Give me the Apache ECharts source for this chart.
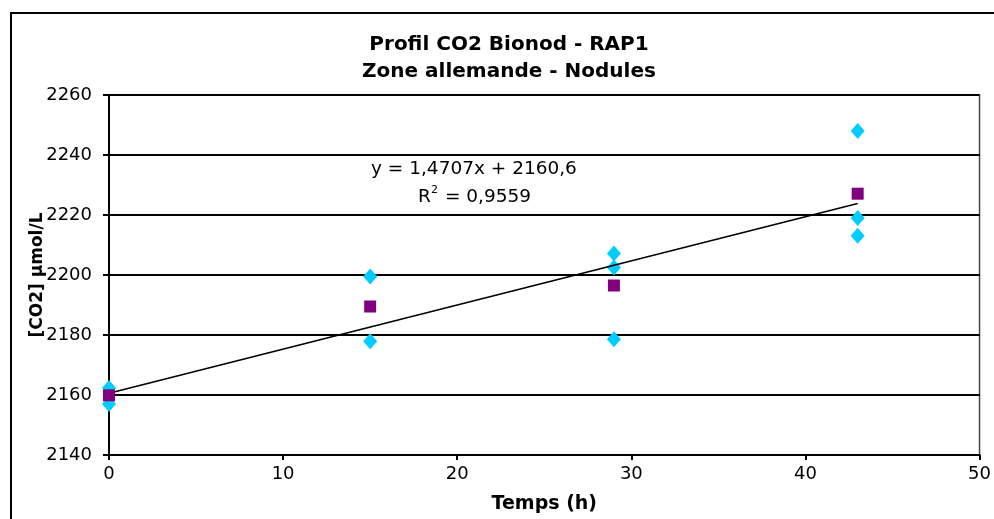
<!DOCTYPE html>
<html>
<head>
<meta charset="UTF-8">
<title>Profil CO2 Bionod - RAP1</title>
<script src="https://cdn.jsdelivr.net/npm/echarts@6/dist/echarts.min.js"></script>
<style>
  body { margin: 0; padding: 0; background: #fff; }
  #chart { width: 994px; height: 519px; }
</style>
</head>
<body>
<div id="chart"></div>
<script>
// mesures individuelles (losanges cyan)
var mesures = [
  [0, 2162.3], [0, 2157.0],
  [15, 2199.5], [15, 2177.9],
  [29, 2207.2], [29, 2202.5], [29, 2178.6],
  [43, 2248.0], [43, 2219.0], [43, 2213.1]
];
// moyennes (carres violets)
var moyennes = [[0, 2159.9], [15, 2189.5], [29, 2196.5], [43, 2227.1]];
// courbe de tendance lineaire
var pente = 1.4707, ordonnee = 2160.6;
var tendanceX = [0, 43];

var chart = echarts.init(document.getElementById('chart'));
var font = '"DejaVu Sans", Arial, sans-serif';

chart.setOption({
  animation: false,
  title: {
    text: 'Profil CO2 Bionod - RAP1\nZone allemande - Nodules',
    left: 504, textAlign: 'center', top: 26,
    textStyle: { fontFamily: font, fontSize: 20, fontWeight: 'bold', color: '#000', lineHeight: 27 }
  },
  grid: { left: 109, right: 14, top: 95, bottom: 63, show: true, borderColor: '#444', borderWidth: 1.5 },
  xAxis: {
    type: 'value', min: 0, max: 50, interval: 10,
    name: 'Temps (h)', nameLocation: 'middle', nameGap: 40,
    nameTextStyle: { fontFamily: font, fontSize: 19, fontWeight: 'bold', color: '#000' },
    axisLine: { lineStyle: { color: '#000', width: 2 } },
    axisTick: { show: true, length: 5, lineStyle: { color: '#000', width: 2 } },
    axisLabel: { fontFamily: font, fontSize: 18, color: '#000', margin: 10 },
    splitLine: { show: false }
  },
  yAxis: {
    type: 'value', min: 2140, max: 2260, interval: 20,
    axisLine: { lineStyle: { color: '#000', width: 2 } },
    axisTick: { show: true, length: 6, lineStyle: { color: '#000', width: 2 } },
    axisLabel: { fontFamily: font, fontSize: 18, color: '#000', margin: 17,
      formatter: function (v) { return String(v); } },
    splitLine: { show: true, lineStyle: { color: '#000', width: 1.8 } }
  },
  graphic: [
    { type: 'rect', shape: { x: 11, y: 13, width: 1000, height: 520 },
      style: { fill: 'none', stroke: '#000', lineWidth: 2 }, z: 100 },
    { type: 'text', x: 38, y: 275, rotation: Math.PI / 2,
      style: { text: '[CO2] µmol/L', font: 'bold 17px ' + font, fill: '#000',
        textAlign: 'center', textVerticalAlign: 'middle' } },
    { type: 'text', left: 371, top: 160,
      style: { text: 'y = 1,4707x + 2160,6', font: '18.5px ' + font, fill: '#000' } },
    { type: 'text', left: 418, top: 188,
      style: { text: 'R', font: '18.5px ' + font, fill: '#000' } },
    { type: 'text', left: 431, top: 185,
      style: { text: '2', font: '11px ' + font, fill: '#000' } },
    { type: 'text', left: 439, top: 188,
      style: { text: ' = 0,9559', font: '18.5px ' + font, fill: '#000' } }
  ],
  series: [
    {
      type: 'line', data: tendanceX.map(function (x) { return [x, ordonnee + pente * x]; }),
      showSymbol: false, lineStyle: { color: '#000', width: 1.7 }, z: 3
    },
    {
      type: 'scatter', data: mesures, symbol: 'diamond', symbolSize: [14, 16],
      itemStyle: { color: '#00CCFF', opacity: 1 }, z: 2
    },
    {
      type: 'scatter', data: moyennes, symbol: 'rect', symbolSize: 12,
      itemStyle: { color: '#800080', opacity: 1 }, z: 4
    }
  ]
});
</script>
</body>
</html>
